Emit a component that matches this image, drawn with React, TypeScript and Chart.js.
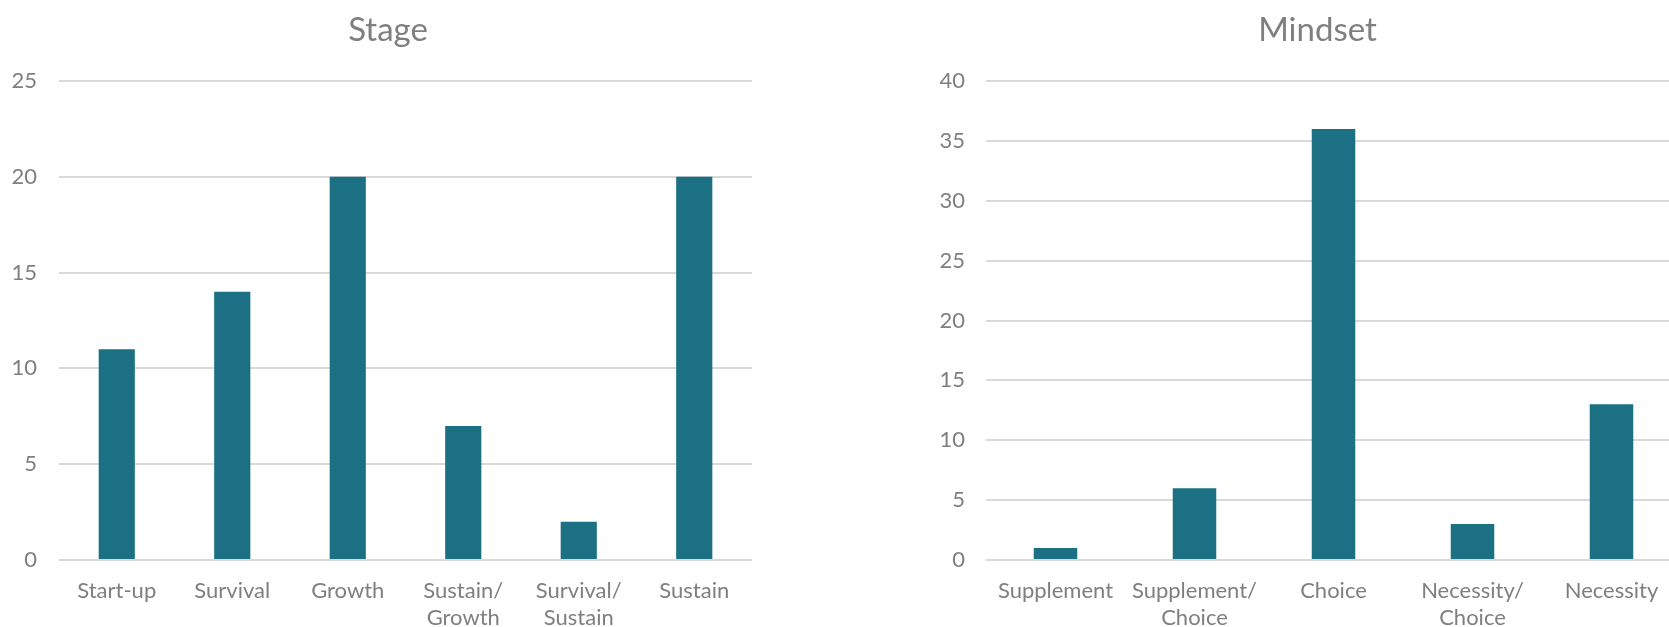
import React, { useEffect, useRef } from 'react';
import { Chart, registerables } from 'chart.js';

Chart.register(...registerables);

const stageTitle = 'Stage';
const stageCategories: string[][] = [
  ['Start-up'],
  ['Survival'],
  ['Growth'],
  ['Sustain/', 'Growth'],
  ['Survival/', 'Sustain'],
  ['Sustain'],
];
const stageValues = [11, 14, 20, 7, 2, 20];
const stageAxis = { min: 0, max: 25, step: 5 };

const mindsetTitle = 'Mindset';
const mindsetCategories: string[][] = [
  ['Supplement'],
  ['Supplement/', 'Choice'],
  ['Choice'],
  ['Necessity/', 'Choice'],
  ['Necessity'],
];
const mindsetValues = [1, 6, 36, 3, 13];
const mindsetAxis = { min: 0, max: 40, step: 5 };

const BAR_COLOR = '#1b7083';
const TEXT_COLOR = '#7f7f7f';
const GRID_COLOR = '#d9d9d9';
const FONT = 'Lato';

type Layout = {
  yWidth: number;
  yPad: number;
  titleShift: number;
};

function makeConfig(
  title: string,
  labels: string[][],
  values: number[],
  axis: { min: number; max: number; step: number },
  lay: Layout
): any {
  return {
    type: 'bar',
    data: {
      labels,
      datasets: [
        {
          data: values,
          backgroundColor: BAR_COLOR,
          borderWidth: 0,
          categoryPercentage: 1,
          barPercentage: 0.313,
        },
      ],
    },
    plugins: [
      {
        id: 'titleShift',
        afterLayout(chart: any) {
          const t = chart.titleBlock;
          if (t) {
            t.left += lay.titleShift;
            t.right += lay.titleShift;
          }
        },
      },
    ],
    options: {
      animation: false,
      responsive: false,
      maintainAspectRatio: false,
      devicePixelRatio: 1,
      layout: { padding: 0 },
      plugins: {
        legend: { display: false },
        tooltip: { enabled: false },
        title: {
          display: true,
          text: title,
          color: TEXT_COLOR,
          font: { family: FONT, size: 33, weight: 'normal', lineHeight: 1.2 },
          padding: { top: 10.5, bottom: 30.9 },
        },
      },
      scales: {
        x: {
          grid: { display: false, drawTicks: false },
          border: { display: false },
          ticks: {
            color: TEXT_COLOR,
            font: { family: FONT, size: 22, lineHeight: 1.23 },
            maxRotation: 0,
            minRotation: 0,
            autoSkip: false,
            padding: 17.5,
          },
          afterFit: (s: any) => {
            s.height = 67;
          },
        },
        y: {
          min: axis.min,
          max: axis.max,
          grid: { color: GRID_COLOR, lineWidth: 2, drawTicks: false },
          border: { display: false },
          ticks: {
            stepSize: axis.step,
            color: TEXT_COLOR,
            font: { family: FONT, size: 22 },
            padding: lay.yPad,
          },
          afterFit: (s: any) => {
            s.width = lay.yWidth;
          },
        },
      },
    },
  };
}

function BarChart(props: {
  title: string;
  labels: string[][];
  values: number[];
  axis: { min: number; max: number; step: number };
  lay: Layout;
  left: number;
  width: number;
}) {
  const ref = useRef<HTMLCanvasElement>(null);
  useEffect(() => {
    if (!ref.current) return;
    const chart = new Chart(
      ref.current,
      makeConfig(props.title, props.labels, props.values, props.axis, props.lay)
    );
    return () => chart.destroy();
  }, []);
  return (
    <canvas
      ref={ref}
      width={props.width}
      height={627}
      style={{ position: 'absolute', left: props.left, top: 0, width: props.width, height: 627 }}
    />
  );
}

export default function App() {
  return (
    <div
      style={{
        position: 'fixed',
        left: 0,
        top: 0,
        width: 1669,
        height: 627,
        overflow: 'hidden',
        background: '#ffffff',
      }}
    >
      <BarChart
        title={stageTitle}
        labels={stageCategories}
        values={stageValues}
        axis={stageAxis}
        lay={{ yWidth: 59, yPad: 22, titleShift: 12 }}
        left={0}
        width={752}
      />
      <BarChart
        title={mindsetTitle}
        labels={mindsetCategories}
        values={mindsetValues}
        axis={mindsetAxis}
        lay={{ yWidth: 54, yPad: 21, titleShift: 11 }}
        left={932}
        width={749}
      />
    </div>
  );
}
